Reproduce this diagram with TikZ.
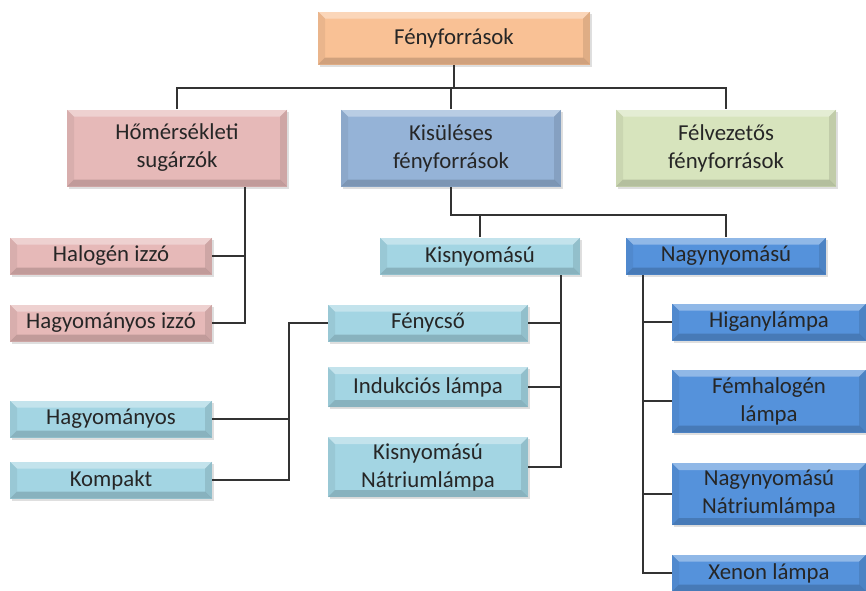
\documentclass[tikz,border=0pt]{standalone}
\usepackage{fontspec}
\setmainfont{Carlito}
\usetikzlibrary{calc,shadows}

\definecolor{orangebox}{HTML}{F9C195}
\definecolor{pinkbox}{HTML}{E6B9B8}
\definecolor{steelbox}{HTML}{95B3D7}
\definecolor{greenbox}{HTML}{D7E4BD}
\definecolor{cyanbox}{HTML}{A3D5E3}
\definecolor{bluebox}{HTML}{5592DB}
\definecolor{linegray}{HTML}{333333}

\tikzset{
  box/.style={fill=#1, align=center, inner sep=0pt, text=black!85,
    font=\fontsize{11.4}{14}\selectfont,
    drop shadow={opacity=0.25, shadow xshift=0.8pt, shadow yshift=-1.2pt},
    path picture={
      \fill[white, opacity=0.35] (path picture bounding box.north west) -- (path picture bounding box.north east)
        -- ($(path picture bounding box.north east)+(-3.5pt,-3.5pt)$) -- ($(path picture bounding box.north west)+(3.5pt,-3.5pt)$) -- cycle;
      \fill[black, opacity=0.06] (path picture bounding box.north west) -- ($(path picture bounding box.north west)+(3.5pt,-3.5pt)$)
        -- ($(path picture bounding box.south west)+(3.5pt,3.5pt)$) -- (path picture bounding box.south west) -- cycle;
      \fill[black, opacity=0.10] (path picture bounding box.north east) -- ($(path picture bounding box.north east)+(-3.5pt,-3.5pt)$)
        -- ($(path picture bounding box.south east)+(-3.5pt,3.5pt)$) -- (path picture bounding box.south east) -- cycle;
      \fill[black, opacity=0.16] (path picture bounding box.south west) -- ($(path picture bounding box.south west)+(3.5pt,3.5pt)$)
        -- ($(path picture bounding box.south east)+(-3.5pt,3.5pt)$) -- (path picture bounding box.south east) -- cycle;
    }},
  small/.style={box=#1, minimum width=100pt, minimum height=18.5pt},
  big/.style={box=#1, minimum width=110pt, minimum height=38.5pt},
  tree/.style={draw=linegray, line width=1.1pt}
}

\begin{document}
\begin{tikzpicture}[x=0.5pt, y=-0.5pt]
  \useasboundingbox (0,0) rectangle (866,590);
  \clip (0,0) rectangle (866,590);

  \node[box=orangebox, minimum width=136pt, minimum height=26.5pt] (root) at (454,38) {Fényforrások};
  \node[big=pinkbox]  (hom)   at (177,148) {Hőmérsékleti\\sugárzók};
  \node[big=steelbox] (kisul) at (451,148) {Kisüléses\\fényforrások};
  \node[big=greenbox] (fel)   at (726,148) {Félvezetős\\fényforrások};

  \node[small=pinkbox, minimum width=101pt] (halo) at (111,256) {Halogén izzó};
  \node[small=pinkbox, minimum width=101pt] (hagy) at (111,323) {Hagyományos izzó};

  \node[small=cyanbox] (kisny) at (480,256) {Kisnyomású};
  \node[small=bluebox] (nagy)  at (726,256) {Nagynyomású};

  \node[small=cyanbox] (fency)  at (428,323) {Fénycső};
  \node[small=cyanbox, minimum height=20pt] (induk) at (428,387) {Indukciós lámpa};
  \node[small=cyanbox, minimum height=30pt] (kisnat) at (428,467) {Kisnyomású\\Nátriumlámpa};

  \node[small=cyanbox, minimum width=101pt] (hagyk) at (111,419) {Hagyományos};
  \node[small=cyanbox, minimum width=101pt] (komp)  at (111,480) {Kompakt};

  \node[small=bluebox, minimum width=97pt] (higany)  at (769,322) {Higanylámpa};
  \node[small=bluebox, minimum width=97pt, minimum height=31.5pt] (femh) at (769,401) {Fémhalogén\\lámpa};
  \node[small=bluebox, minimum width=97pt, minimum height=31pt] (nagynat) at (769,494) {Nagynyomású\\Nátriumlámpa};
  \node[small=bluebox, minimum width=97pt] (xen) at (769,573) {Xenon lámpa};

  \coordinate (j1) at (454,88);
  \coordinate (j2) at (451,215);
  \coordinate (t1) at (245,187);
  \coordinate (t2) at (561,275);
  \coordinate (t3) at (289,323);
  \coordinate (t4) at (643,275);

  \draw[tree] (root.south) -- (j1);
  \draw[tree] (hom.north) -- (hom.north |- j1) -- (fel.north |- j1) -- (fel.north);
  \draw[tree] (kisul.north) -- (kisul.north |- j1);

  \draw[tree] (kisul.south) -- (j2) -| (nagy.north);
  \draw[tree] (kisny.north) -- (kisny.north |- j2);

  \draw[tree] (t1) |- (hagy.east);
  \draw[tree] (halo.east) -- (halo.east -| t1);

  \draw[tree] (t2) |- (kisnat.east);
  \draw[tree] (fency.east) -- (fency.east -| t2);
  \draw[tree] (induk.east) -- (induk.east -| t2);

  \draw[tree] (fency.west) -- (t3) |- (komp.east);
  \draw[tree] (hagyk.east) -- (hagyk.east -| t3);

  \draw[tree] (t4) |- (xen.west);
  \draw[tree] (higany.west) -- (higany.west -| t4);
  \draw[tree] (femh.west) -- (femh.west -| t4);
  \draw[tree] (nagynat.west) -- (nagynat.west -| t4);
\end{tikzpicture}
\end{document}
